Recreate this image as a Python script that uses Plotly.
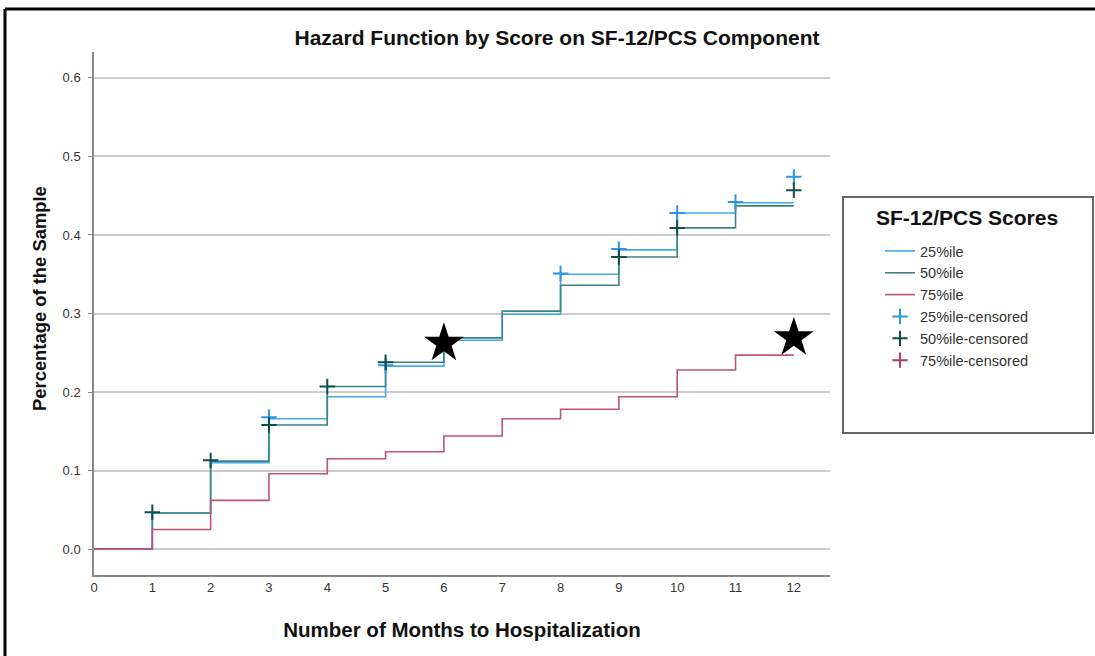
import plotly.graph_objects as go

months = [0, 1, 2, 3, 4, 5, 6, 7, 8, 9, 10, 11, 12]
h25 = [0.0, 0.046, 0.110, 0.166, 0.194, 0.233, 0.266, 0.299, 0.350, 0.381, 0.428, 0.441, 0.441]
h50 = [0.0, 0.046, 0.112, 0.158, 0.207, 0.238, 0.269, 0.303, 0.336, 0.372, 0.409, 0.437, 0.437]
h75 = [0.0, 0.025, 0.062, 0.096, 0.115, 0.124, 0.144, 0.166, 0.178, 0.194, 0.228, 0.247, 0.247]

cens25_x = [3, 5, 8, 9, 10, 11, 12]
cens25_y = [0.168, 0.234, 0.351, 0.382, 0.428, 0.442, 0.474]
cens50_x = [1, 2, 3, 4, 5, 9, 10, 12]
cens50_y = [0.047, 0.113, 0.158, 0.207, 0.238, 0.372, 0.409, 0.457]
cens75_x = [None]
cens75_y = [None]

star_x = [6, 12]
star_y = [0.262, 0.269]

c25, c50, c75 = "#45a8ee", "#3b8580", "#c0507d"
m25, m50, m75 = "#2a94e6", "#0e4f49", "#b03a6c"

FONT = "Liberation Sans"
fig = go.Figure()
fig.add_trace(go.Scatter(x=months, y=h25, mode="lines", line=dict(color=c25, width=1.6, shape="hv"), name="25%ile"))
fig.add_trace(go.Scatter(x=months, y=h50, mode="lines", line=dict(color=c50, width=1.6, shape="hv"), name="50%ile"))
fig.add_trace(go.Scatter(x=months, y=h75, mode="lines", line=dict(color=c75, width=1.6, shape="hv"), name="75%ile"))
fig.add_trace(go.Scatter(x=cens25_x, y=cens25_y, mode="markers", name="25%ile-censored",
                         marker=dict(symbol="cross-thin", size=11, line=dict(color=m25, width=2))))
fig.add_trace(go.Scatter(x=cens50_x, y=cens50_y, mode="markers", name="50%ile-censored",
                         marker=dict(symbol="cross-thin", size=11, line=dict(color=m50, width=2))))
fig.add_trace(go.Scatter(x=cens75_x, y=cens75_y, mode="markers", name="75%ile-censored",
                         marker=dict(symbol="cross-thin", size=11, line=dict(color=m75, width=2))))
fig.add_trace(go.Scatter(x=star_x, y=star_y, mode="markers", showlegend=False,
                         marker=dict(symbol="star", size=30, color="black")))

L, R, T, B = 94, 265, 52, 81
W, H = 1095, 656
pw, ph = W - L - R, H - T - B
def px(x): return (x - L) / pw
def py(y): return (H - B - y) / ph

shapes = [
    dict(type="rect", xref="paper", yref="paper", x0=px(843), x1=px(1093), y0=py(433), y1=py(197),
         line=dict(color="#666666", width=2), fillcolor="rgba(0,0,0,0)"),
    dict(type="line", xref="paper", yref="paper", x0=px(5), x1=px(5), y0=py(9), y1=py(665),
         line=dict(color="black", width=3)),
    dict(type="line", xref="paper", yref="paper", x0=px(5), x1=px(1100), y0=py(9), y1=py(9),
         line=dict(color="black", width=3)),
]

annotations = [
    dict(text="<b>SF-12/PCS Scores</b>", xref="paper", yref="paper", x=px(967), y=py(218),
         xanchor="center", yanchor="middle", showarrow=False,
         font=dict(family=FONT, size=21, color="#111111")),
    dict(text="<b>Percentage of the Sample</b>", xref="paper", yref="paper", x=px(39), y=py(299),
         xanchor="center", yanchor="middle", showarrow=False, textangle=-90,
         font=dict(family=FONT, size=18.4, color="#111111")),
]

fig.update_layout(
    width=W, height=H,
    margin=dict(l=L, r=R, t=T, b=B),
    paper_bgcolor="white", plot_bgcolor="white",
    title=dict(text="<b>Hazard Function by Score on SF-12/PCS Component</b>", xref="container",
               x=557 / W, y=1 - 38 / H,
               xanchor="center", yanchor="middle", font=dict(family=FONT, size=21, color="#111111")),
    font=dict(family=FONT, size=13, color="#333333"),
    xaxis=dict(range=[0, 12.62], tickvals=months, ticktext=[str(m) for m in months],
               showgrid=False, zeroline=False, showline=True, linecolor="#888888", linewidth=1.5,
               ticks="", tickfont=dict(size=13, color="#333333"),
               title=dict(text="<b>Number of Months to Hospitalization</b>", standoff=28,
                          font=dict(family=FONT, size=20.5, color="#111111"))),
    yaxis=dict(range=[-0.033, 0.633], tickvals=[0, 0.1, 0.2, 0.3, 0.4, 0.5, 0.6], tickformat=".1f",
               showgrid=True, gridcolor="#cccccc", gridwidth=1.5, zeroline=False,
               showline=True, linecolor="#888888", linewidth=1.5,
               ticks="outside", ticklen=4, tickcolor="#888888", tickfont=dict(size=13, color="#333333"),
               ticklabelstandoff=5),
    legend=dict(x=px(880), y=py(235), xanchor="left", yanchor="top", bgcolor="rgba(0,0,0,0)",
                borderwidth=0, font=dict(family=FONT, size=14.5, color="#333333"), tracegroupgap=0,
                itemwidth=30),
    shapes=shapes, annotations=annotations,
)

fig.write_html("out.html", post_script="document.body.style.margin='0';",
               config={"displayModeBar": False})
